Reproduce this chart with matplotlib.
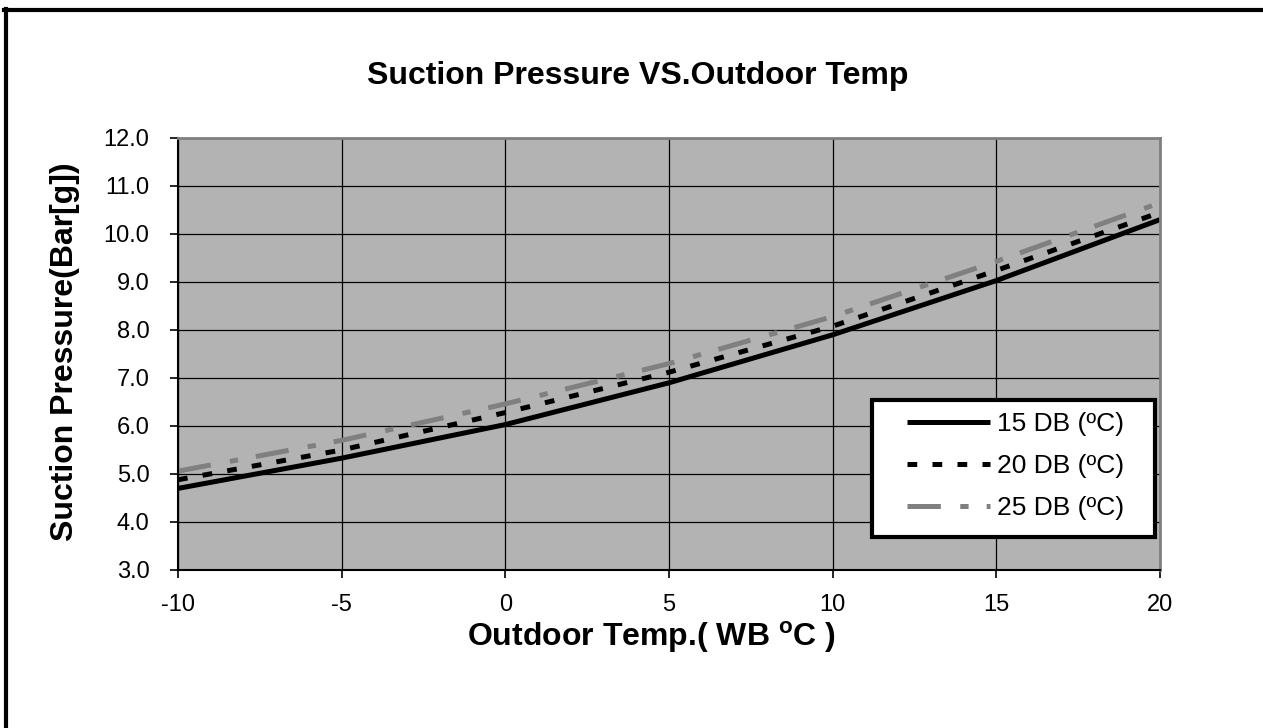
import matplotlib
matplotlib.use("Agg")
import matplotlib.pyplot as plt
from matplotlib.lines import Line2D
from matplotlib.patches import Rectangle

plt.rcParams["font.family"] = ["Liberation Sans", "DejaVu Sans"]
plt.rcParams["mathtext.fontset"] = "custom"
plt.rcParams["mathtext.rm"] = "Liberation Sans:bold"
plt.rcParams["lines.scale_dashes"] = False
plt.rcParams["axes.unicode_minus"] = False

# outdoor wet-bulb temp (deg C)
wb_temp = [-10, -5, 0, 5, 10, 15, 20]

# suction pressure (bar g) per indoor dry-bulb temp
p_15db = [4.70, 5.33, 6.03, 6.90, 7.90, 9.03, 10.30]
p_20db = [4.88, 5.50, 6.28, 7.12, 8.08, 9.24, 10.45]
p_25db = [5.06, 5.70, 6.46, 7.30, 8.28, 9.43, 10.65]

labels = ["15 DB (ºC)", "20 DB (ºC)", "25 DB (ºC)"]

W, H = 1263, 728
fig = plt.figure(figsize=(W / 100, H / 100), dpi=100)
ax = fig.add_axes([178 / W, 1 - 570 / H, 982 / W, 432 / H])
ax.set_facecolor("#b3b3b3")

ax.plot(wb_temp, p_15db, color="black", lw=3.6, solid_capstyle="butt", label=labels[0])
ax.plot(wb_temp, p_20db, color="black", lw=3.6, dashes=(7, 11), label=labels[1])
ax.plot(wb_temp, p_25db, color="#808080", lw=3.6, dashes=(24, 14, 6, 13), label=labels[2])

ax.set_xlim(-10, 20)
ax.set_ylim(3, 12)
ax.set_xticks(range(-10, 21, 5))
ax.set_yticks(range(3, 13))
ax.set_yticklabels([f"{v:.1f}" for v in range(3, 13)])
ax.grid(True, color="black", lw=0.9)
ax.set_axisbelow(True)
ax.tick_params(direction="out", length=5.5, width=1.2, labelsize=17, color="black")
ax.tick_params(axis="y", pad=15)
ax.tick_params(axis="x", pad=12)

for side in ["left", "bottom"]:
    ax.spines[side].set_color("black")
    ax.spines[side].set_linewidth(1.5)
for side in ["top", "right"]:
    ax.spines[side].set_color("#808080")
    ax.spines[side].set_linewidth(2)

# legend box drawn by hand so the padding matches
box = Rectangle((872 / W, 1 - 537 / H), 283 / W, 137 / H, transform=fig.transFigure,
                facecolor="white", edgecolor="black", lw=3, zorder=4)
ax.add_artist(box)
box.set_clip_on(False)
leg = ax.legend(loc="upper left", bbox_to_anchor=(899 / W, 1 - 404 / H),
                bbox_transform=fig.transFigure, frameon=False, fontsize=19,
                handlelength=3.15, handletextpad=0.27, labelspacing=0.68,
                borderpad=0.3, borderaxespad=0)
leg.set_zorder(5)

fig.text(638 / W, 1 - 76 / H, "Suction Pressure VS.Outdoor Temp",
         ha="center", va="center", fontsize=23, fontweight="bold")
fig.text(652 / W, 1 - 637 / H, r"Outdoor Temp.( WB $^{\mathrm{o}}$C )",
         ha="center", va="center", fontsize=23, fontweight="bold")
fig.text(65 / W, 1 - 352 / H, "Suction Pressure(Bar[g])", rotation=90,
         ha="center", va="center", fontsize=23, fontweight="bold")

# outer frame (top and left edges only visible in the original)
fig.add_artist(Line2D([4 / W, 1], [1 - 10 / H, 1 - 10 / H], color="black", lw=3))
fig.add_artist(Line2D([5.5 / W, 5.5 / W], [0, 1 - 8.5 / H], color="black", lw=3))

fig.savefig("out.png", dpi=100)
